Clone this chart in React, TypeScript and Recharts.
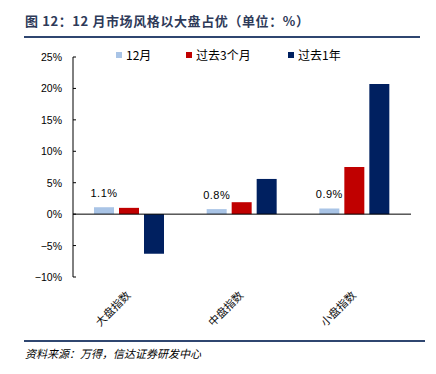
import React from "react";
import { Bar, BarChart, XAxis, YAxis, ReferenceLine, LabelList } from "recharts";

const categories = ["大盘指数", "中盘指数", "小盘指数"];
const december = [1.1, 0.8, 0.9];
const past3m = [1.0, 1.9, 7.5];
const past1y = [-6.3, 5.6, 20.7];
const yTicks = [-10, -5, 0, 5, 10, 15, 20, 25];

const series = [
  { key: "dec", name: "12月", color: "#A9C4E6" },
  { key: "m3", name: "过去3个月", color: "#C00000" },
  { key: "y1", name: "过去1年", color: "#002060" },
];

const data = categories.map((c, i) => ({ name: c, dec: december[i], m3: past3m[i], y1: past1y[i] }));

const CN = '"Noto Sans CJK SC", "Liberation Sans", sans-serif';
const NUM = '"Liberation Sans", Arial, sans-serif';

function YTick({ x, y, payload }: any) {
  const v = payload.value;
  return (
    <g>
      <line x1={x} y1={y} x2={x + 3} y2={y} stroke="#000" strokeWidth={1} />
      <text x={x - 11} y={y} dy={4} textAnchor="end" fontSize={10.5} fontFamily={NUM} fill="#000">
        {v < 0 ? `−${-v}%` : `${v}%`}
      </text>
    </g>
  );
}

function XTick({ x, y, payload }: any) {
  return (
    <g transform={`translate(${x + 2},${y + 19})`}>
      <text transform="rotate(-45)" textAnchor="end" fontSize={11} fontFamily={CN} fill="#111">
        {payload.value}
      </text>
    </g>
  );
}

function LegendBox() {
  const offsets = [0, 70, 172];
  return (
    <div style={{ position: "absolute", left: 116, top: 46, height: 14, fontSize: 12, color: "#000" }}>
      {series.map((s, i) => (
        <div key={s.key} style={{ position: "absolute", left: offsets[i], top: 0, display: "flex", alignItems: "center", whiteSpace: "nowrap" }}>
          <span style={{ display: "inline-block", width: 6, height: 6, background: s.color, marginRight: 4 }} />
          <span style={{ fontFamily: CN }}>{s.name}</span>
        </div>
      ))}
    </div>
  );
}

export default function App() {
  return (
    <div style={{ position: "absolute", left: 0, top: 0, width: 436, height: 374, background: "#fff" }}>
      <div style={{ position: "absolute", left: 0, top: 0 }}>
        <BarChart width={436} height={374} data={data} margin={{ top: 57, right: 25, bottom: 37, left: 23 }} barSize={20} barGap={5}>
          <XAxis dataKey="name" axisLine={false} tickLine={false} tickSize={0} tickMargin={0} height={60} tick={<XTick />} interval={0} />
          <YAxis domain={[-10, 25]} ticks={yTicks} width={50} tickSize={0} tickMargin={0} tickLine={false} axisLine={{ stroke: "#000" }} tick={<YTick />} interval={0} />
          <ReferenceLine y={0} stroke="#000" strokeWidth={1} />
          <Bar dataKey="dec" name="12月" fill={series[0].color} isAnimationActive={false}>
            <LabelList dataKey="dec" position="top" offset={10} formatter={(v: any) => `${Number(v).toFixed(1)}%`} style={{ fontFamily: NUM, fontSize: 11, fill: "#000", letterSpacing: 0.5 }} />
          </Bar>
          <Bar dataKey="m3" name="过去3个月" fill={series[1].color} isAnimationActive={false} />
          <Bar dataKey="y1" name="过去1年" fill={series[2].color} isAnimationActive={false} />
        </BarChart>
      </div>
      <div style={{ position: "absolute", left: 25, top: 11, fontFamily: CN, fontWeight: 700, fontSize: 13, letterSpacing: 0.6, color: "#2E3A59", whiteSpace: "nowrap" }}>
        图 12：12 月市场风格以大盘占优（单位：%）
      </div>
      <div style={{ position: "absolute", left: 24, top: 36, width: 396, height: 2, background: "#2F4670" }} />
      <LegendBox />
      <div style={{ position: "absolute", left: 24, top: 340, width: 401, height: 2, background: "#2F4670" }} />
      <div style={{ position: "absolute", left: 25, top: 345, fontFamily: CN, fontStyle: "italic", fontSize: 11, color: "#000", whiteSpace: "nowrap" }}>
        资料来源：万得，信达证券研发中心
      </div>
    </div>
  );
}
